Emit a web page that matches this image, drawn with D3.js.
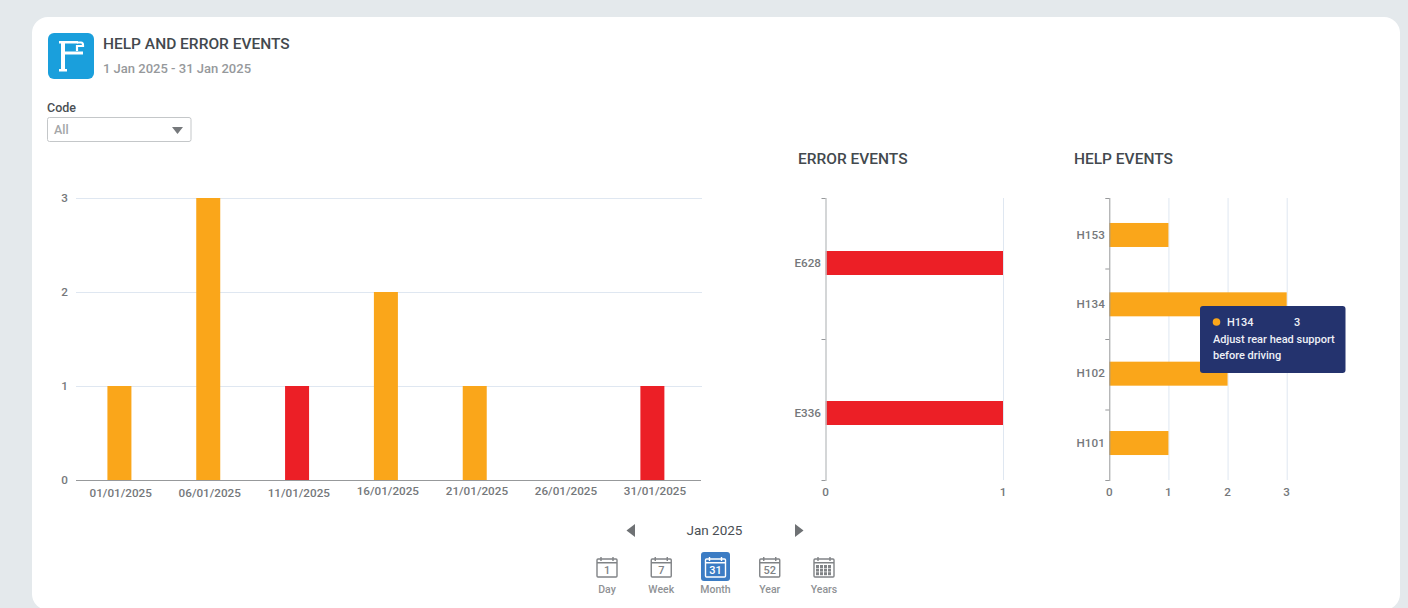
<!DOCTYPE html>
<html>
<head>
<meta charset="utf-8">
<script src="https://d3js.org/d3.v7.min.js"></script>
<style>
  html, body { margin: 0; padding: 0; background: #e4e9ec; overflow: hidden; }
  svg { display: block; }
  text { font-family: Roboto, sans-serif; }
  .tick-label { font-size: 11.7px; font-weight: 500; fill: #75787b; }
  .heading { font-size: 15.5px; font-weight: 500; fill: #43494e; }
</style>
</head>
<body>
<script>
// data
var dates = ["01/01/2025", "06/01/2025", "11/01/2025", "16/01/2025", "21/01/2025", "26/01/2025", "31/01/2025"];
var helpByDate = [1, 3, 0, 2, 1, 0, 0];
var errorByDate = [0, 0, 1, 0, 0, 0, 1];
var countTicks = [0, 1, 2, 3];

var errorCodes = ["E628", "E336"];
var errorCounts = [1, 1];
var errorTicks = [0, 1];

var helpCodes = ["H153", "H134", "H102", "H101"];
var helpCounts = [1, 3, 2, 1];
var helpTicks = [0, 1, 2, 3];

var periods = ["Day", "Week", "Month", "Year", "Years"];
var periodNumbers = ["1", "7", "31", "52", ""];

var orange = "#faa61a", red = "#ec1f26", gridColor = "#dfe7f1", axisColor = "#97999b";

var svg = d3.select("body").append("svg").attr("width", 1408).attr("height", 608);

// card
svg.append("rect").attr("x", 32).attr("y", 17).attr("width", 1368).attr("height", 593)
  .attr("rx", 16).attr("fill", "#fff");

// header
var logo = svg.append("g").attr("transform", "translate(48,33)");
logo.append("rect").attr("width", 46).attr("height", 46).attr("rx", 6).attr("fill", "#1a9fdc");
logo.append("path").attr("fill", "#fff")
  .attr("d", "M11 8H30V10.5H17V18.5H35V21.5H17V36H19V38.5H11V36H13V10.5H11Z");
logo.append("path").attr("fill", "none").attr("stroke", "#fff").attr("stroke-width", 2.2)
  .attr("d", "M29 9.5H33Q35 9.5 35 12V14 M34 13H29V18");

svg.append("text").attr("class", "heading").attr("x", 103).attr("y", 49).text("HELP AND ERROR EVENTS");
svg.append("text").attr("x", 103).attr("y", 73).attr("font-size", 13).attr("font-weight", 500)
  .attr("fill", "#96999c").text("1 Jan 2025 - 31 Jan 2025");

// code filter
svg.append("text").attr("x", 47).attr("y", 112).attr("font-size", 12.5).attr("font-weight", 500)
  .attr("fill", "#4a4f54").text("Code");
svg.append("rect").attr("x", 47.5).attr("y", 117.5).attr("width", 143.5).attr("height", 24).attr("rx", 2)
  .attr("fill", "#fff").attr("stroke", "#c4c7c9");
svg.append("text").attr("x", 54).attr("y", 134).attr("font-size", 12.5).attr("font-weight", 500)
  .attr("fill", "#a3a6a8").text("All");
svg.append("path").attr("d", "M172 127H183L177.5 134Z").attr("fill", "#76797c");

// main chart
var x = d3.scaleBand().domain(dates).range([75, 696.8]);
var xLabel = d3.scalePoint().domain(dates).range([120.7, 655]);
var y = d3.scaleLinear().domain([0, 3]).range([480, 198]);

svg.append("g").selectAll("line").data(countTicks.slice(1)).enter().append("line")
  .attr("x1", 76).attr("x2", 702)
  .attr("y1", function(d) { return y(d) + 0.5; })
  .attr("y2", function(d) { return y(d) + 0.5; })
  .attr("stroke", gridColor);

var rows = dates.map(function(d, i) { return {date: d, help: helpByDate[i], error: errorByDate[i]}; });
var stacked = d3.stack().keys(["help", "error"])(rows);
var barColor = {help: orange, error: red};

svg.append("g").selectAll("g").data(stacked).enter().append("g")
  .attr("fill", function(s) { return barColor[s.key]; })
  .selectAll("rect").data(function(s) { return s; }).enter().append("rect")
  .attr("x", function(d) { return x(d.data.date) + x.bandwidth() / 2 - 12; })
  .attr("width", 24)
  .attr("y", function(d) { return y(d[1]); })
  .attr("height", function(d) { return y(d[0]) - y(d[1]); });

svg.append("line").attr("x1", 76).attr("x2", 701).attr("y1", 480.5).attr("y2", 480.5)
  .attr("stroke", axisColor);

svg.append("g").selectAll("text").data(countTicks).enter().append("text")
  .attr("class", "tick-label").attr("x", 68).attr("text-anchor", "end")
  .attr("y", function(d) { return y(d) + 4; })
  .text(function(d) { return d; });

// the first three date labels sit a little lower in the original
svg.append("g").selectAll("text").data(dates).enter().append("text")
  .attr("class", "tick-label").attr("text-anchor", "middle")
  .attr("x", function(d) { return xLabel(d); })
  .attr("y", function(d, i) { return i < 3 ? 497 : 495.3; })
  .text(function(d) { return d; });

// horizontal bar panels
function hbar(opts) {
  var g = svg.append("g");
  var xs = d3.scaleLinear().domain([0, opts.max]).range(opts.xRange);
  var slots = d3.scaleBand().domain(opts.codes).range([198, 480]);
  var ys = d3.scaleBand().domain(opts.codes).range(opts.barRange);

  g.selectAll(".grid").data(opts.ticks.slice(1)).enter().append("line")
    .attr("x1", function(d) { return xs(d) + 0.5; })
    .attr("x2", function(d) { return xs(d) + 0.5; })
    .attr("y1", 198).attr("y2", 480).attr("stroke", gridColor);

  g.selectAll(".bar").data(opts.codes).enter().append("rect")
    .attr("x", xs(0)).attr("y", function(d) { return ys(d) + ys.bandwidth() / 2 - 12; })
    .attr("height", 24)
    .attr("width", function(d, i) { return xs(opts.values[i]) - xs(0); })
    .attr("fill", opts.color);

  g.append("line").attr("x1", xs(0) + 0.5).attr("x2", xs(0) + 0.5).attr("y1", 198).attr("y2", 481)
    .attr("stroke", opts.axis).attr("stroke-width", opts.axisWidth);

  var edges = opts.codes.map(function(c) { return slots(c); }).concat([480]);
  g.selectAll(".tk").data(edges).enter().append("line")
    .attr("x1", xs(0) - 4).attr("x2", xs(0))
    .attr("y1", function(d) { return d + 0.5; })
    .attr("y2", function(d) { return d + 0.5; })
    .attr("stroke", axisColor);

  g.selectAll(".code").data(opts.codes).enter().append("text")
    .attr("class", "tick-label").attr("text-anchor", "end").attr("x", xs(0) - 4.5)
    .attr("y", function(d) { return ys(d) + ys.bandwidth() / 2 + 3.7; })
    .text(function(d) { return d; });

  g.selectAll(".val").data(opts.ticks).enter().append("text")
    .attr("class", "tick-label").attr("text-anchor", "middle").attr("y", 495.5)
    .attr("x", function(d) { return xs(d); })
    .text(function(d) { return d; });

  g.append("text").attr("class", "heading").attr("x", opts.titleX).attr("y", 164).text(opts.title);
}

hbar({title: "ERROR EVENTS", titleX: 798, codes: errorCodes, values: errorCounts, ticks: errorTicks, max: 1,
  xRange: [825.5, 1003], barRange: [188, 488], color: red, axis: "#c6c8ca", axisWidth: 1.5});
hbar({title: "HELP EVENTS", titleX: 1074, codes: helpCodes, values: helpCounts, ticks: helpTicks, max: 3,
  xRange: [1109.3, 1286.7], barRange: [200.3, 477.7], color: orange, axis: axisColor, axisWidth: 1});

// tooltip
var tip = svg.append("g").attr("transform", "translate(1200,306)");
tip.append("rect").attr("width", 145.5).attr("height", 67).attr("rx", 3).attr("fill", "#24336e");
tip.append("circle").attr("cx", 16.5).attr("cy", 16).attr("r", 3.8).attr("fill", orange);
tip.append("text").attr("x", 27).attr("y", 20).attr("font-size", 11).attr("font-weight", 500).attr("fill", "#eef0f6").text(helpCodes[1]);
tip.append("text").attr("x", 94).attr("y", 20).attr("font-size", 11).attr("font-weight", 500).attr("fill", "#eef0f6").text(helpCounts[1]);
tip.append("text").attr("x", 13).attr("y", 37).attr("font-size", 11).attr("font-weight", 500).attr("fill", "#eef0f6").text("Adjust rear head support");
tip.append("text").attr("x", 13).attr("y", 53).attr("font-size", 11).attr("font-weight", 500).attr("fill", "#eef0f6").text("before driving");

// period navigation
svg.append("path").attr("d", "M635 524V537L626.5 530.5Z").attr("fill", "#6e7174");
svg.append("path").attr("d", "M795 524V537L803.5 530.5Z").attr("fill", "#6e7174");
svg.append("text").attr("x", 714.5).attr("y", 535).attr("text-anchor", "middle").attr("font-size", 13.5)
  .attr("fill", "#4a4f54").text("Jan 2025");

var periodX = d3.scalePoint().domain(periods).range([607, 824]);

periods.forEach(function(p, i) {
  var active = p === "Month";
  var col = active ? "#fff" : "#808386";
  var g = svg.append("g").attr("transform", "translate(" + periodX(p) + ",567)");
  if (active) {
    g.append("rect").attr("x", -14.5).attr("y", -15).attr("width", 29).attr("height", 29).attr("rx", 3).attr("fill", "#3b7cc4");
  }
  g.append("rect").attr("x", -10).attr("y", -8).attr("width", 20).attr("height", 18).attr("rx", 1)
    .attr("fill", "none").attr("stroke", col).attr("stroke-width", 1.4);
  g.append("path").attr("d", "M-10 -4.3H10 M-6 -10V-6 M6 -10V-6").attr("stroke", col).attr("stroke-width", 1.4).attr("fill", "none");
  if (periodNumbers[i]) {
    g.append("text").attr("y", 6.5).attr("text-anchor", "middle").attr("font-size", 11).attr("font-weight", 500).attr("fill", col).text(periodNumbers[i]);
  } else {
    d3.range(12).forEach(function(k) {
      g.append("rect").attr("x", -8 + (k % 4) * 4).attr("y", -2 + Math.floor(k / 4) * 3.6).attr("width", 3).attr("height", 3).attr("fill", col);
    });
  }
  svg.append("text").attr("x", periodX(p)).attr("y", 593).attr("text-anchor", "middle")
    .attr("font-size", 10.5).attr("font-weight", 500).attr("fill", "#8f9295").text(p);
});
</script>
</body>
</html>
